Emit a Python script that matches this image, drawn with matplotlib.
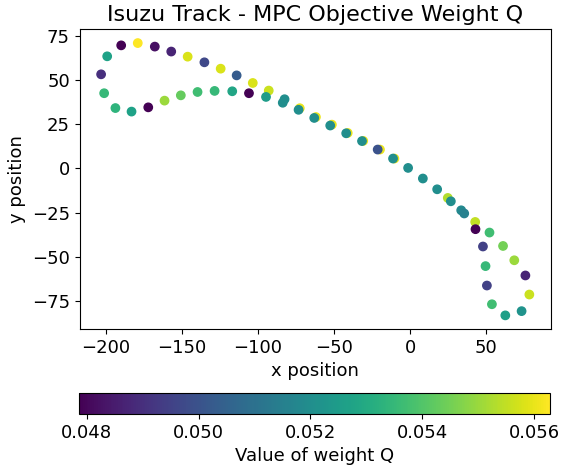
import matplotlib
matplotlib.use("Agg")
import matplotlib.pyplot as plt
import numpy as np

# track points (x, y) and MPC weight Q
xPos = [-189.9, -179.0, -167.8, -157.0, -146.2, -135.2, -124.5, -114.0, -103.4, -92.9, -72.5,
        -61.9, -51.4, -41.0, -30.8, -19.8, -10.3, 24.8,
        -199.1, -203.1, -201.1, -193.7, -183.1, -172.1, -161.4, -150.7, -139.7, -128.5,
        -116.9, -105.9, -94.7, -83.7, -82.5, -73.3,
        -63.0, -52.5, -42.0, -31.6, -21.3, -11.2, -1.3, 8.4, 17.8, 26.8, 33.6, 35.6,
        42.8, 43.0, 52.2, 47.9, 61.1, 49.6, 68.5, 75.8, 50.5, 78.4, 53.8, 73.3, 62.6]
yPos = [69.7, 71.0, 69.0, 66.2, 63.3, 60.1, 56.5, 52.7, 48.4, 44.1, 34.1,
        29.1, 24.8, 20.1, 15.6, 10.7, 5.6, -16.7,
        63.5, 53.3, 42.6, 34.2, 32.2, 34.6, 38.4, 41.4, 43.3, 43.9,
        43.7, 42.6, 40.5, 37.2, 39.2, 33.2,
        28.6, 24.3, 19.9, 15.5, 10.7, 5.6, 0.3, -5.7, -11.8, -18.6, -23.7, -25.5,
        -30.3, -34.4, -36.3, -44.2, -43.9, -55.3, -52.0, -60.6, -66.3, -71.4, -76.9, -80.8, -83.2]
weightQ = [0.0479, 0.05628, 0.0482, 0.0487, 0.0558, 0.0497, 0.0558, 0.0503, 0.0558, 0.0556, 0.0560,
           0.0560, 0.0560, 0.0560, 0.0560, 0.0560, 0.0560, 0.0553,
           0.0527, 0.0490, 0.0535, 0.0533, 0.0527, 0.04787, 0.0550, 0.0543, 0.0537, 0.0535,
           0.0528, 0.0479, 0.0525, 0.0520, 0.0520, 0.0520,
           0.0520, 0.0520, 0.0520, 0.0520, 0.0500, 0.0520, 0.0520, 0.0520, 0.0520, 0.0520, 0.0518, 0.0515,
           0.0555, 0.0479, 0.0537, 0.0495, 0.0545, 0.0535, 0.0550, 0.0487, 0.0495, 0.0556, 0.0537, 0.0522, 0.0526]

fig = plt.figure(figsize=(5.62, 4.75), dpi=100)
ax = fig.add_axes([0.1418, 0.3074, 0.8382, 0.6306])
cax = fig.add_axes([0.1411, 0.1284, 0.8375, 0.0436])

sc = ax.scatter(xPos, yPos, c=weightQ, cmap="viridis")
ax.set_title("Isuzu Track - MPC Objective Weight Q", fontsize=16)
ax.set_xlabel("x position", fontsize=13)
ax.set_ylabel("y position", fontsize=13)
ax.tick_params(labelsize=13)

cb = fig.colorbar(sc, cax=cax, orientation="horizontal")
cb.set_label("Value of weight Q", fontsize=13)
cb.set_ticks([0.048, 0.050, 0.052, 0.054, 0.056])
cb.ax.tick_params(labelsize=13)

fig.savefig("out.png", dpi=100)
